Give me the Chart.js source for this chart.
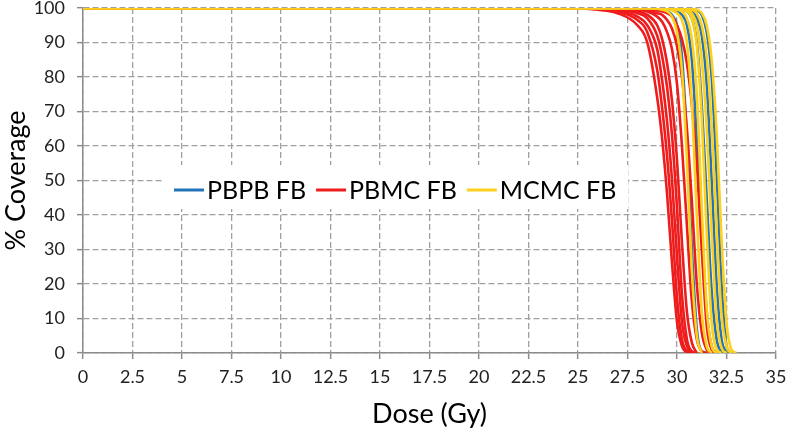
<!DOCTYPE html>
<html>
<head>
<meta charset="utf-8">
<script src="https://cdn.jsdelivr.net/npm/chart.js@4/dist/chart.umd.min.js"></script>
<style>
  html, body { margin: 0; padding: 0; background: #fff; }
  #wrap { width: 787px; height: 430px; position: relative; }
</style>
</head>
<body>
<div id="wrap"><canvas id="c" width="787" height="430"></canvas></div>
<script>
// Dose grid (Gy) shared by all curves
const dose = [0, 24, 26, 27, 28, 28.5, 29, 29.25, 29.5, 29.75, 30, 30.25, 30.5, 30.75, 31, 31.25, 31.5, 31.75, 32, 32.25, 32.5, 32.75, 33];

// % Coverage curves (null = curve has ended)
const pbpbFB = [
  [100,100,100,100,100,100,99.8,99.5,99,98,95,86,62,30,7,0.5,0,null,null,null,null,null,null],
  [100,100,100,100,100,100,100,100,99.8,99.5,99,98,95,85,62,35,12,2,0,null,null,null,null],
  [100,100,100,100,100,100,100,100,100,100,99.8,99.5,99,97,90,72,45,18,4,0,null,null,null],
  [100,100,100,100,100,100,100,100,100,100,100,99.8,99.5,99,97,92,78,50,20,4,0,null,null],
  [100,100,100,100,100,100,100,100,100,100,100,100,100,99.8,99.4,98,93,80,52,20,2,0,null]
];
const pbmcFB = [
  [100,100,99.5,98.5,95,90,74,62,46,26,9,2,0,null,null,null,null,null,null,null,null,null,null],
  [100,100,99.7,99,96.5,93,82,71,57,38,16,4,0.5,0,null,null,null,null,null,null,null,null,null],
  [100,100,99.8,99.3,97.5,95,88,79,67,50,28,9,2,0,null,null,null,null,null,null,null,null,null],
  [100,100,99.9,99.5,98.5,97,92,86,77,63,42,17,4,0.5,0,null,null,null,null,null,null,null,null],
  [100,100,100,99.7,99,98,95,91,84,73,56,32,12,3,0,null,null,null,null,null,null,null,null],
  [100,100,100,99.8,99.4,99,97.5,96,93,88,78,60,37,15,4,0.5,0,null,null,null,null,null,null],
  [100,100,100,100,99.6,99.3,98.5,98,96.5,94,89,80,65,44,20,6,1,0,null,null,null,null,null],
  [100,100,100,100,99.8,99.6,99.3,99,98.5,97.5,95,91,84,72,55,30,8,1,0,null,null,null,null]
];
const mcmcFB = [
  [100,100,100,100,100,100,99.8,99.5,99,97.5,93,82,56,24,5,0,null,null,null,null,null,null,null],
  [100,100,100,100,100,100,100,100,99.7,99.3,98.5,96.5,90,72,40,12,2,0,null,null,null,null,null],
  [100,100,100,100,100,100,100,100,100,99.8,99.5,99,97,91,75,42,13,2,0,null,null,null,null],
  [100,100,100,100,100,100,100,100,100,100,99.8,99.5,99,97,89,68,35,9,1,0,null,null,null],
  [100,100,100,100,100,100,100,100,100,100,100,99.8,99.5,98.5,95,85,65,35,10,1.5,0,null,null],
  [100,100,100,100,100,100,100,100,100,100,100,100,99.8,99.5,98.5,95,86,66,36,11,2,0,null],
  [100,100,100,100,100,100,100,100,100,100,100,100,100,99.8,99.5,98.5,95,85,64,33,9,1,0]
];

const groupLabels = ['PBPB FB', 'PBMC FB', 'MCMC FB'];
const groupColors = ['#2373b8', '#ee1c1c', '#fcd01c'];
const groupSeries = [pbpbFB, pbmcFB, mcmcFB];
const groupOrder = [2, 1, 0]; // yellow on top, then red, then blue

const xTicks = { min: 0, max: 35, step: 2.5 };
const yTicks = { min: 0, max: 100, step: 10 };

const datasets = [];
groupSeries.forEach((series, g) => {
  series.forEach((vals, i) => {
    datasets.push({
      label: groupLabels[g] + ' #' + (i + 1),
      data: vals.map((v, k) => ({ x: dose[k], y: v })),
      borderColor: groupColors[g],
      backgroundColor: groupColors[g],
      borderWidth: 2.6,
      pointRadius: 0,
      fill: false,
      spanGaps: false,
      cubicInterpolationMode: 'monotone',
      order: groupOrder[g]
    });
  });
});

const inlineLegend = {
  id: 'inlineLegend',
  afterDatasetsDraw(chart) {
    const ctx = chart.ctx;
    const ca = chart.chartArea;
    ctx.save();
    const boxL = ca.left + 80, boxT = ca.top + 157, boxW = 465, boxH = 44;
    ctx.fillStyle = '#ffffff';
    ctx.fillRect(boxL, boxT, boxW, boxH);
    ctx.font = '25px Lato';
    ctx.textBaseline = 'middle';
    ctx.textAlign = 'left';
    const y = ca.top + 182;
    let x = ca.left + 91;
    groupLabels.forEach((lab, i) => {
      ctx.strokeStyle = groupColors[i];
      ctx.lineWidth = 3;
      ctx.beginPath();
      ctx.moveTo(x, y);
      ctx.lineTo(x + 30, y);
      ctx.stroke();
      ctx.fillStyle = '#000';
      ctx.fillText(lab, x + 33, y + 1);
      x += 33 + ctx.measureText(lab).width + 10;
    });
    ctx.restore();
  }
};

const gridCommon = {
  color: '#a0a0a0',
  lineWidth: 1.3,
  tickLength: 6,
  tickColor: '#8c8c8c',
  tickWidth: 1.5,
  tickBorderDash: []
};
const borderCommon = { display: true, color: '#8c8c8c', width: 1.5, dash: [6, 3] };

new Chart(document.getElementById('c'), {
  type: 'line',
  data: { datasets },
  plugins: [inlineLegend],
  options: {
    responsive: false,
    animation: false,
    layout: { padding: { top: 8, right: 11, left: 0, bottom: 0 } },
    plugins: { legend: { display: false }, tooltip: { enabled: false } },
    scales: {
      x: {
        type: 'linear',
        min: xTicks.min, max: xTicks.max,
        ticks: { stepSize: xTicks.step, color: '#222', font: { family: 'Lato', size: 18 }, padding: 7, maxRotation: 0, autoSkip: false },
        grid: gridCommon,
        border: borderCommon,
        title: { display: true, text: 'Dose (Gy)', color: '#000', font: { family: 'Lato', size: 27 }, padding: { top: 4, bottom: 0 } },
        afterFit(s) { s.height = 77; s.paddingLeft = 0; s.paddingRight = 0; }
      },
      y: {
        min: yTicks.min, max: yTicks.max,
        ticks: { stepSize: yTicks.step, color: '#222', font: { family: 'Lato', size: 18 }, padding: 12 },
        grid: gridCommon,
        border: borderCommon,
        title: { display: true, text: '% Coverage', color: '#000', font: { family: 'Lato', size: 27 }, padding: { top: 0, bottom: 4 } },
        afterFit(s) { s.width = 83; s.paddingTop = 0; s.paddingBottom = 0; }
      }
    }
  }
});
</script>
</body>
</html>
